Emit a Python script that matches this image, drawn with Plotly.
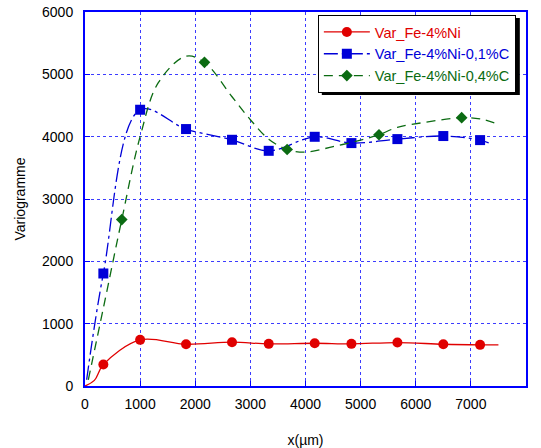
import plotly.graph_objects as go

# ---- data ----
red_line_x = [0, 170, 333, 1000, 1833, 2667, 3333, 4167, 4833, 5667, 6500, 7167, 7500]
red_line_y = [0, 90, 344, 740, 670, 703, 676, 686, 676, 697, 670, 660, 660]
red_mark_x = [333, 1000, 1833, 2667, 3333, 4167, 4833, 5667, 6500, 7167]
red_mark_y = [344, 740, 670, 703, 676, 686, 676, 697, 670, 660]

blue_line_x = [30, 333, 1000, 1833, 2667, 3333, 4167, 4833, 5667, 6500, 7167, 7380]
blue_line_y = [100, 1805, 4432, 4122, 3950, 3773, 3998, 3897, 3961, 4010, 3945, 3880]
blue_mark_x = [333, 1000, 1833, 2667, 3333, 4167, 4833, 5667, 6500, 7167]
blue_mark_y = [1805, 4432, 4122, 3950, 3773, 3998, 3897, 3961, 4010, 3945]

green_line_x = [60, 333, 667, 1000, 1333, 1833, 2167, 2667, 3000, 3333, 3667, 4000, 4500, 5000, 5333, 5667, 6167, 6833, 7167, 7500]
green_line_y = [100, 1250, 2670, 4000, 4870, 5290, 5193, 4640, 4272, 3960, 3794, 3752, 3840, 3945, 4031, 4150, 4230, 4304, 4285, 4200]
green_mark_x = [667, 2167, 3667, 5333, 6833]
green_mark_y = [2670, 5193, 3794, 4031, 4304]

names = ["Var_Fe-4%Ni", "Var_Fe-4%Ni-0,1%C", "Var_Fe-4%Ni-0,4%C"]
x_ticks = [0, 1000, 2000, 3000, 4000, 5000, 6000, 7000, 8000]
y_ticks = [0, 1000, 2000, 3000, 4000, 5000, 6000]

RED = "#e00000"
BLUE = "#0000d8"
GREEN = "#0b6b12"
FONT = "Liberation Sans, Arial, sans-serif"

fig = go.Figure()

series = [
    (red_line_x, red_line_y, red_mark_x, red_mark_y, RED, "solid", "circle", 10, names[0]),
    (blue_line_x, blue_line_y, blue_mark_x, blue_mark_y, BLUE, "14px,4px,3px,4px", "square", 10, names[1]),
    (green_line_x, green_line_y, green_mark_x, green_mark_y, GREEN, "9px,6px", "diamond", 9, names[2]),
]

for lx, ly, mx, my, col, dash, sym, ms, nm in series:
    fig.add_trace(go.Scatter(x=lx, y=ly, mode="lines", showlegend=False,
                             line=dict(color=col, width=1.3, dash=dash, shape="spline", smoothing=1.0),
                             hoverinfo="skip"))
    fig.add_trace(go.Scatter(x=mx, y=my, mode="markers", showlegend=False,
                             marker=dict(color=col, symbol=sym, size=ms, line=dict(width=0))))
    fig.add_trace(go.Scatter(x=[None], y=[None], mode="lines+markers",
                             name=f"<span style='color:{col}'>{nm}</span>",
                             line=dict(color=col, width=1.3, dash=dash),
                             marker=dict(color=col, symbol=sym, size=ms)))

axis_common = dict(
    showline=True, linecolor="#0000ff", linewidth=2, mirror=True,
    showgrid=True, gridcolor="#3c3cff", gridwidth=1, griddash="dot",
    ticks="inside", ticklen=5, tickcolor="#0000ff", tickwidth=1,
    zeroline=False, automargin=False,
    tickfont=dict(family=FONT, size=14, color="#000000"),
    title_font=dict(family=FONT, size=14, color="#000000"),
)

fig.update_xaxes(range=[0, 8000], tickvals=x_ticks, ticktext=[str(v) for v in x_ticks],
                 title_text="x(µm)", title_standoff=24, ticklabelstandoff=4, **axis_common)
fig.update_yaxes(range=[0, 6000], tickvals=y_ticks, ticktext=[str(v) for v in y_ticks],
                 title_text="Variogramme", title_standoff=13, ticklabelstandoff=7, **axis_common)

# legend shadow (plot area: 441 x 374 px)
fig.add_shape(type="rect", xref="paper", yref="paper",
              x0=0.537, x1=0.986, y0=0.778, y1=0.984,
              fillcolor="black", line=dict(width=0), layer="above")

fig.update_layout(
    width=541, height=448,
    margin=dict(l=85, r=15, t=12, b=62),
    paper_bgcolor="white", plot_bgcolor="white",
    font=dict(family=FONT, size=14, color="black"),
    showlegend=True,
    legend=dict(x=0.528, y=0.992, xanchor="left", yanchor="top",
                bgcolor="white", bordercolor="black", borderwidth=1,
                font=dict(family=FONT, size=14.5), tracegroupgap=0,
                itemwidth=46),
)

fig.write_html("out.html", config={"displayModeBar": False},
               post_script="document.body.style.margin='0px';")
